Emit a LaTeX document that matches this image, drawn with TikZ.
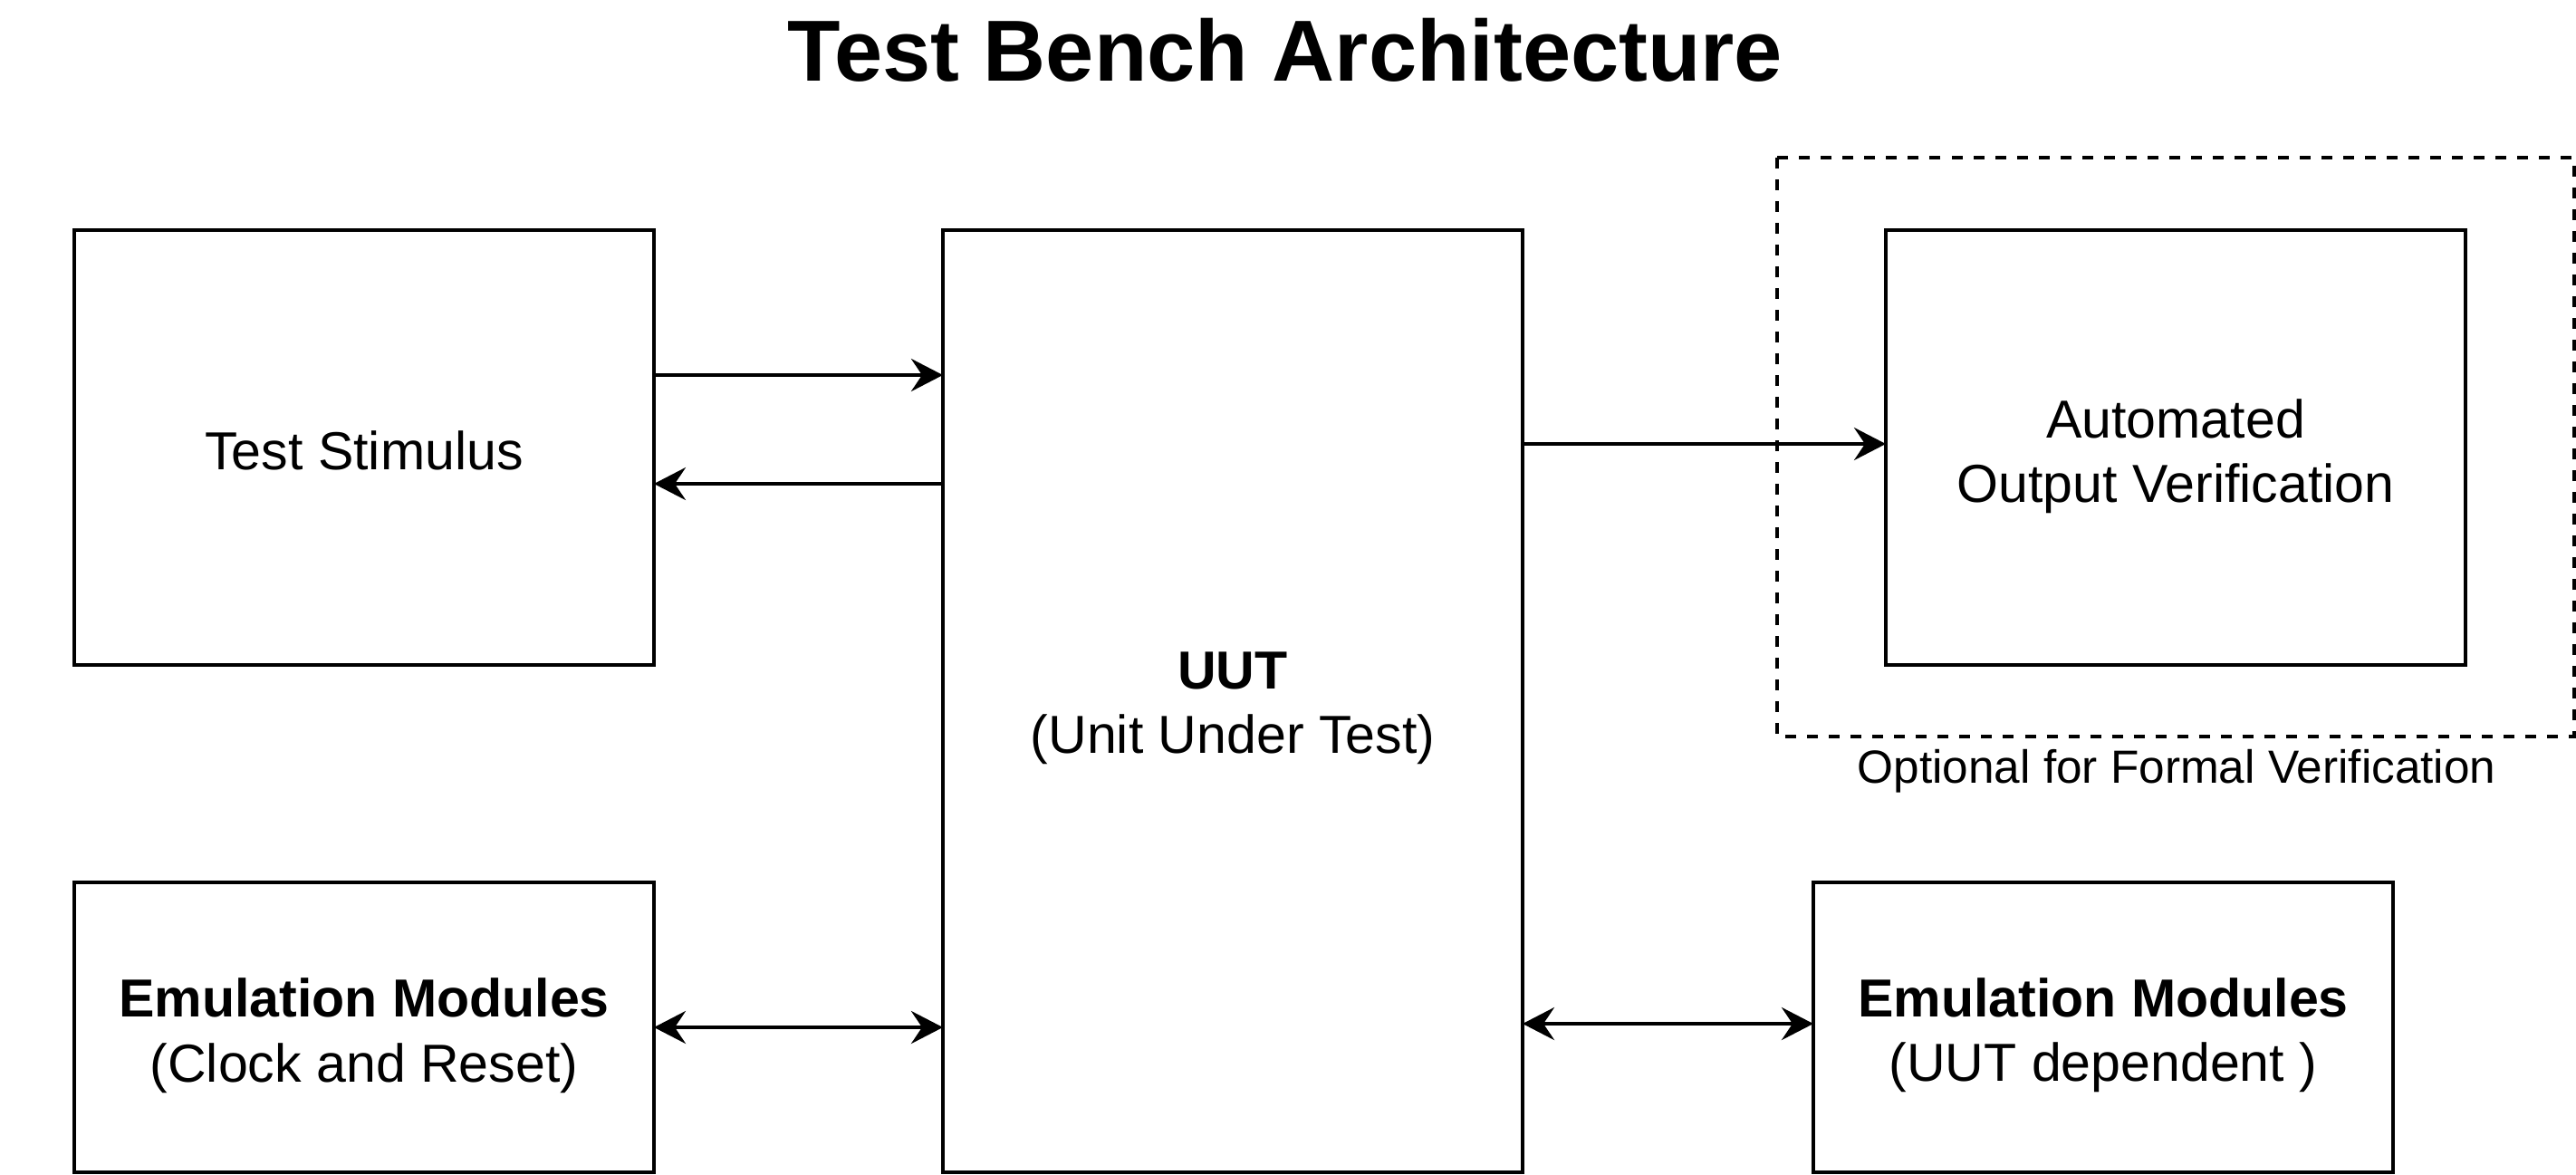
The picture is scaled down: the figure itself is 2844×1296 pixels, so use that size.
\documentclass[tikz,border=0pt]{standalone}
\usepackage{fontspec}
\setmainfont{Liberation Sans}
\usetikzlibrary{arrows.meta}
\tikzset{
  box/.style={draw=black, line width=1.1pt, fill=white},
  lbl/.style={align=center, font=\fontsize{16.8pt}{20.3pt}\selectfont},
  conn/.style={line width=1.1pt, -{Stealth[length=0.35cm, width=0.36cm, inset=0.12cm]}},
  conn2/.style={line width=1.1pt, {Stealth[length=0.35cm, width=0.36cm, inset=0.12cm]}-{Stealth[length=0.35cm, width=0.36cm, inset=0.12cm]}},
  dashbox/.style={draw=black, line width=1.1pt, dash pattern=on 0.12cm off 0.12cm}
}
\begin{document}
\begin{tikzpicture}[x=0.01cm, y=-0.01cm]
\useasboundingbox (0,0) rectangle (2844,1296);
% title
\node[font=\fontsize{27.2pt}{32pt}\selectfont\bfseries] (title) at (1419,55) {Test Bench Architecture};
% dashed optional group
\draw[dashbox] (1962,174) rectangle (2842,813);
\node[font=\fontsize{14.6pt}{17.5pt}\selectfont] (optlbl) at (2403,851) {Optional for Formal Verification};
% boxes
\draw[box] (82,254) rectangle (722,734);
\node[lbl] (ts) at (402,497) {Test Stimulus};
\draw[box] (1041,254) rectangle (1681,1294);
\node[lbl] (uut) at (1361,782) {\textbf{UUT}\\(Unit Under Test)};
\draw[box] (2082,254) rectangle (2722,734);
\node[lbl] (aov) at (2402,504) {Automated\\Output Verification};
\draw[box] (82,974) rectangle (722,1294);
\node[lbl] (emL) at (402,1143) {\textbf{Emulation Modules}\\(Clock and Reset)};
\draw[box] (2002,974) rectangle (2642,1294);
\node[lbl] (emR) at (2322,1143) {\textbf{Emulation Modules}\\(UUT dependent )};
% connection points
\coordinate (tsR1) at (722,414);
\coordinate (uutL1) at (1041,414);
\coordinate (uutL2) at (1041,534);
\coordinate (tsR2) at (722,534);
\coordinate (uutR1) at (1681,490);
\coordinate (aovL) at (2082,490);
\coordinate (emLR) at (722,1134);
\coordinate (uutL3) at (1041,1134);
\coordinate (uutR3) at (1681,1130);
\coordinate (emRL) at (2002,1130);
% connectors
\draw[conn] (tsR1) -- (uutL1);
\draw[conn] (uutL2) -- (tsR2);
\draw[conn] (uutR1) -- (aovL);
\draw[conn2] (emLR) -- (uutL3);
\draw[conn2] (uutR3) -- (emRL);
\end{tikzpicture}
\end{document}
